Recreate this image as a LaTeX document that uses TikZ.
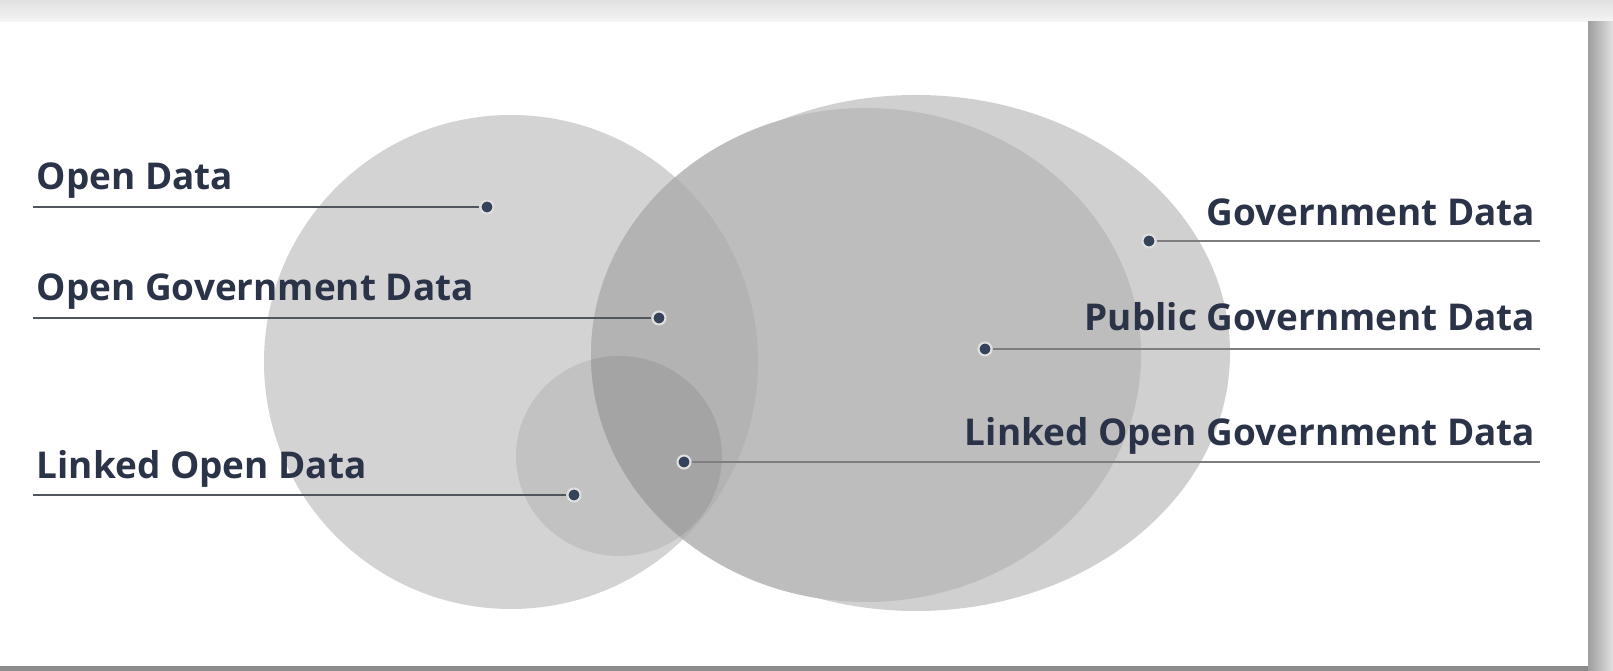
\documentclass[tikz,border=0pt]{standalone}
\usepackage{fontspec}
\newfontfamily\labelfont{Open Sans}
\definecolor{ink}{HTML}{2A3347}
\definecolor{dotc}{HTML}{34425A}
\definecolor{leftline}{HTML}{50555E}
\definecolor{rightline}{HTML}{7E7E7E}
\definecolor{opendata}{HTML}{D3D3D3}
\definecolor{govdata}{HTML}{D0D0D0}
\definecolor{pubdata}{HTML}{BDBDBD}
\definecolor{overlap}{HTML}{B3B3B3}
\begin{document}
\begin{tikzpicture}[x=0.01cm, y=-0.01cm,
  lbl/.style={font=\labelfont\bfseries\fontsize{10.5}{13}\selectfont, text=ink, inner sep=0pt},
  dot/.style={shape=circle, fill=dotc, draw=white!75!gray, line width=0.6pt, minimum size=0.13cm, inner sep=0pt},
  leadL/.style={draw=leftline, line width=0.75pt},
  leadR/.style={draw=rightline, line width=0.75pt}]
\useasboundingbox (0,0) rectangle (1613,671);
% frame and shadow
\shade[top color=black!12, bottom color=black!4] (0,0) rectangle (1613,22);
\shade[left color=black!38, right color=black!12] (1588,22) rectangle (1613,671);
\fill[black!45] (0,666) rectangle (1588,671);
\fill[white] (0,22) rectangle (1588,666);
% sets
\fill[opendata] (511,362) circle [radius=247];
\fill[govdata] (916,353) ellipse [x radius=314, y radius=258];
\fill[pubdata] (866,355) ellipse [x radius=275, y radius=247];
\begin{scope}
  \clip (511,362) circle [radius=247];
  \fill[overlap] (866,355) ellipse [x radius=275, y radius=247];
\end{scope}
\fill[black, opacity=0.08] (619,456) ellipse [x radius=103, y radius=100];
% labels
\node[lbl, anchor=base west] (tOD) at (36,190) {Open Data};
\node[lbl, anchor=base west] (tOGD) at (36,301) {Open Government Data};
\node[lbl, anchor=base west] (tLOD) at (36,479) {Linked Open Data};
\node[lbl, anchor=base east] (tGD) at (1536,226) {Government Data};
\node[lbl, anchor=base east] (tPGD) at (1536,331) {Public Government Data};
\node[lbl, anchor=base east] (tLOGD) at (1536,446) {Linked Open Government Data};
% dots
\node[dot] (OD) at (487,207) {};
\node[dot] (OGD) at (659,318) {};
\node[dot] (LOD) at (574,495) {};
\node[dot] (GD) at (1149,241) {};
\node[dot] (PGD) at (985,349) {};
\node[dot] (LOGD) at (684,462) {};
% line ends
\coordinate (eOD) at (33,207);
\coordinate (eOGD) at (33,318);
\coordinate (eLOD) at (33,495);
\coordinate (eGD) at (1540,241);
\coordinate (ePGD) at (1540,349);
\coordinate (eLOGD) at (1540,462);
\path [leadL] (eOD) edge (OD.west);
\path [leadL] (eOGD) edge (OGD.west);
\path [leadL] (eLOD) edge (LOD.west);
\path [leadR] (GD.east) edge (eGD);
\path [leadR] (PGD.east) edge (ePGD);
\path [leadR] (LOGD.east) edge (eLOGD);
\end{tikzpicture}
\end{document}
